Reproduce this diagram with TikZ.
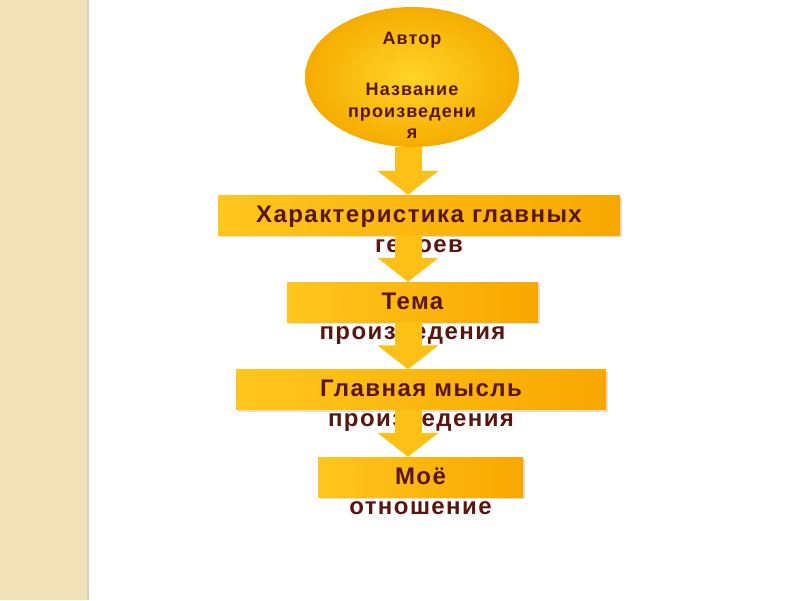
\documentclass[tikz,border=0pt]{standalone}
\usepackage{fontspec}
\setmainfont{Liberation Sans}[LetterSpace=6]
\usetikzlibrary{arrows.meta,positioning,calc,shadows,shapes.geometric}

\definecolor{strip}{RGB}{242,226,183}
\definecolor{stripline}{RGB}{216,208,190}
\definecolor{boxlight}{RGB}{255,198,30}
\definecolor{boxdark}{RGB}{248,168,0}
\definecolor{ovallight}{RGB}{255,212,40}
\definecolor{ovaldark}{RGB}{246,172,0}
\definecolor{arrowfill}{RGB}{252,192,22}
\definecolor{txtbrown}{RGB}{88,22,14}

\begin{document}
\begin{tikzpicture}[x=1pt, y=-1pt,
  stepbox/.style={draw=none, left color=boxlight, right color=boxdark, minimum height=40pt,
    drop shadow={opacity=0.25, shadow xshift=1.5pt, shadow yshift=-2pt}},
  oval/.style={ellipse, draw=none, inner color=ovallight, outer color=ovaldark,
    minimum width=214pt, minimum height=140pt},
  boxtext/.style={anchor=north, align=center, text=txtbrown, inner sep=0pt,
    font=\fontsize{24}{30}\selectfont\bfseries},
  ovaltext/.style={anchor=north, align=center, text=txtbrown, inner sep=0pt,
    font=\fontsize{18}{21.5}\selectfont\bfseries},
  flow/.style={line width=27pt, draw=arrowfill, -{Triangle[width=60pt, length=24pt]}}
]
\useasboundingbox (0,0) rectangle (800,600);

% left strip
\fill[strip] (0,0) rectangle (87,600);
\fill[stripline] (87,0) rectangle (89,600);

\coordinate (axis) at (408,0);

\node[oval] (title) at (412,77) {};
\node[stepbox, minimum width=402pt] (heroes) at (419,215) {};
\node[stepbox, minimum width=251pt] (theme) at (412.5,302) {};
\node[stepbox, minimum width=370pt] (idea) at (421,389.5) {};
\node[stepbox, minimum width=205pt] (attitude) at (420.5,477) {};

\node[ovaltext] (titletext) at ($(title.north)+(0,25)$) {Автор\\[30pt]Название\\произведени\\я};
\node[boxtext] (heroestext) at ($(heroes.north)+(0,10.5)$) {Характеристика главных\\героев};
\node[boxtext] (themetext) at ($(theme.north)+(0,10.5)$) {Тема\\произведения};
\node[boxtext] (ideatext) at ($(idea.north)+(0,10.5)$) {Главная мысль\\произведения};
\node[boxtext] (attitudetext) at ($(attitude.north)+(0,10.5)$) {Моё\\отношение};

\draw[flow] (title.south -| axis) -- (heroes.north -| axis);
\draw[flow] (heroes.south -| axis) -- (theme.north -| axis);
\draw[flow] (theme.south -| axis) -- (idea.north -| axis);
\draw[flow] (idea.south -| axis) -- (attitude.north -| axis);

\end{tikzpicture}
\end{document}
